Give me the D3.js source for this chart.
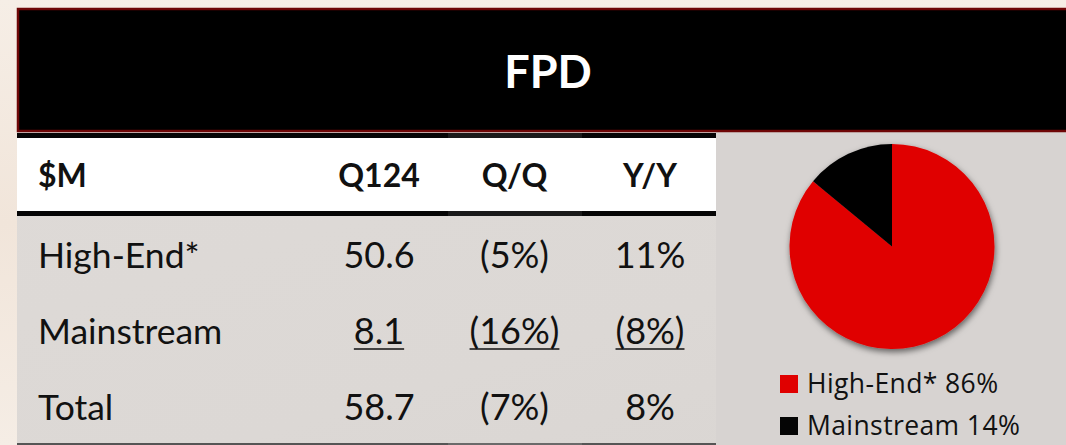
<!DOCTYPE html>
<html>
<head>
<meta charset="utf-8">
<script src="https://cdn.jsdelivr.net/npm/d3@7"></script>
<style>
  html, body { margin: 0; padding: 0; background: #f4ebe2; }
  svg { display: block; }
</style>
</head>
<body>
<svg id="chart"></svg>
<script>
var width = 1066;
var height = 445;

// ---------------------------------------------------------------
// data
// ---------------------------------------------------------------
var title = "FPD";
var columns = ["$M", "Q124", "Q/Q", "Y/Y"];
var rowLabels = ["High-End*", "Mainstream", "Total"];
var q124 = [50.6, 8.1, 58.7];
var qq = [-5, -16, -7];
var yy = [11, -8, 8];
var underlined = [false, true, false];

var mixLabels = ["High-End*", "Mainstream"];
var mixShare = [86, 14];
var mixColors = ["#e00000", "#050505"];

// ---------------------------------------------------------------
// setup
// ---------------------------------------------------------------
var svg = d3.select("#chart").attr("width", width).attr("height", height);
var defs = svg.append("defs");

var bgGrad = defs.append("linearGradient").attr("id", "bodyBg")
    .attr("x1", 0).attr("x2", 1).attr("y1", 0).attr("y2", 1);
bgGrad.append("stop").attr("offset", "0%").attr("stop-color", "#dedad7");
bgGrad.append("stop").attr("offset", "60%").attr("stop-color", "#dcd8d5");
bgGrad.append("stop").attr("offset", "100%").attr("stop-color", "#d9d5d2");

var side = defs.append("linearGradient").attr("id", "sideBg")
    .attr("x1", 0).attr("x2", 0).attr("y1", 0).attr("y2", 1);
side.append("stop").attr("offset", "0%").attr("stop-color", "#f6eee6");
side.append("stop").attr("offset", "50%").attr("stop-color", "#f1e5da");
side.append("stop").attr("offset", "100%").attr("stop-color", "#f5ede5");

var shadow = defs.append("filter").attr("id", "pieShadow")
    .attr("x", "-20%").attr("y", "-20%").attr("width", "140%").attr("height", "140%");
shadow.append("feDropShadow").attr("dx", 1).attr("dy", 3)
    .attr("stdDeviation", 3).attr("flood-color", "#000").attr("flood-opacity", 0.55);

// page background
svg.append("rect").attr("width", width).attr("height", height).attr("fill", "url(#sideBg)");
svg.append("rect").attr("x", 17).attr("y", 132).attr("width", width - 17).attr("height", height - 132)
    .attr("fill", "url(#bodyBg)");
svg.append("rect").attr("x", 716).attr("y", 132).attr("width", width - 716).attr("height", height - 132)
    .attr("fill", "#d7d3d1");

// title bar
svg.append("rect").attr("x", 18).attr("y", 9).attr("width", width).attr("height", 122)
    .attr("fill", "#000").attr("stroke", "#6e0606").attr("stroke-width", 2.5);
svg.append("text").attr("x", 548).attr("y", 88)
    .attr("text-anchor", "middle")
    .style("font-family", "Lato, 'Open Sans', sans-serif")
    .style("font-weight", "bold").style("font-size", "45px")
    .attr("fill", "#fff").text(title);

// ---------------------------------------------------------------
// table
// ---------------------------------------------------------------
var x = d3.scalePoint().domain(columns.slice(1)).range([379, 650]);
var y = d3.scalePoint().domain(rowLabels).range([268, 420]);
var labelX = 38;
var tableRight = 716;
var colEdges = [17, 448, 582, tableRight];

// header row
svg.append("rect").attr("x", 17).attr("y", 138).attr("width", tableRight - 17).attr("height", 73)
    .attr("fill", "#fff");
svg.selectAll("rect.rule-top").data(d3.pairs(colEdges)).enter().append("rect")
    .attr("class", "rule-top")
    .attr("x", d => d[0]).attr("y", 133).attr("width", d => d[1] - d[0]).attr("height", 5)
    .attr("fill", (d, i) => i == 1 ? "#1a1a1a" : "#050505");
svg.selectAll("rect.rule-mid").data(d3.pairs(colEdges)).enter().append("rect")
    .attr("class", "rule-mid")
    .attr("x", d => d[0]).attr("y", 211).attr("width", d => d[1] - d[0]).attr("height", 5)
    .attr("fill", (d, i) => i == 1 ? "#1a1a1a" : "#050505");
svg.selectAll("rect.rule-bot").data(d3.pairs(colEdges)).enter().append("rect")
    .attr("class", "rule-bot")
    .attr("x", d => d[0]).attr("y", 443).attr("width", d => d[1] - d[0]).attr("height", 2)
    .attr("fill", (d, i) => i == 1 ? "#6a6a6a" : "#555");

var tableFont = "Lato, 'Open Sans', sans-serif";
svg.selectAll("text.head").data(columns).enter().append("text")
    .attr("class", "head")
    .attr("x", (d, i) => i == 0 ? labelX : x(d))
    .attr("y", 187)
    .attr("text-anchor", (d, i) => i == 0 ? "start" : "middle")
    .style("font-family", tableFont).style("font-weight", "bold").style("font-size", "32px")
    .attr("fill", "#111")
    .text(d => d);

function pct(v) {
    return v < 0 ? "(" + Math.abs(v) + "%)" : v + "%";
}

var rows = rowLabels.map((label, i) => ({
    label: label,
    cells: [q124[i].toFixed(1), pct(qq[i]), pct(yy[i])],
    underline: underlined[i]
}));

var rowG = svg.selectAll("g.row").data(rows).enter().append("g")
    .attr("class", "row")
    .attr("transform", d => "translate(0," + y(d.label) + ")");

rowG.append("text")
    .attr("x", labelX)
    .style("font-family", tableFont).style("font-size", "35.5px")
    .attr("fill", "#111")
    .text(d => d.label);

rowG.each(function(d) {
    var g = d3.select(this);
    var cells = g.selectAll("text.cell").data(d.cells).enter().append("text")
        .attr("class", "cell")
        .attr("x", (c, j) => x(columns[j + 1]))
        .attr("text-anchor", "middle")
        .style("font-family", tableFont).style("font-size", "36px")
        .attr("fill", "#111")
        .text(c => c);
    if (d.underline) {
        cells.each(function(c, j) {
            var w = this.getComputedTextLength();
            var cx = x(columns[j + 1]);
            g.append("line")
                .attr("x1", cx - w / 2).attr("x2", cx + w / 2)
                .attr("y1", 5).attr("y2", 5)
                .attr("stroke", "#111").attr("stroke-width", 1.6);
        });
    }
});

// ---------------------------------------------------------------
// pie
// ---------------------------------------------------------------
var mix = mixLabels.map((l, i) => ({ label: l, value: mixShare[i], color: mixColors[i] }));
var pie = d3.pie().sort(null).value(d => d.value);
var arc = d3.arc().innerRadius(0).outerRadius(102.5);

var pieG = svg.append("g")
    .attr("transform", "translate(892,246.5)")
    .attr("filter", "url(#pieShadow)");
pieG.selectAll("path").data(pie(mix)).enter().append("path")
    .attr("d", arc)
    .attr("fill", d => d.data.color);

// legend
var ly = d3.scalePoint().domain(mixLabels).range([384, 426]);
var leg = svg.selectAll("g.legend").data(mix).enter().append("g")
    .attr("class", "legend")
    .attr("transform", d => "translate(780," + ly(d.label) + ")");
leg.append("rect").attr("x", 0).attr("y", -9).attr("width", 18).attr("height", 18)
    .attr("fill", d => d.color);
leg.append("text").attr("x", 27).attr("y", 9)
    .style("font-family", "'Open Sans', sans-serif").style("font-size", "26.5px")
    .style("letter-spacing", "0.4px")
    .attr("fill", "#111")
    .text(d => d.label + " " + d.value + "%");
</script>
</body>
</html>
